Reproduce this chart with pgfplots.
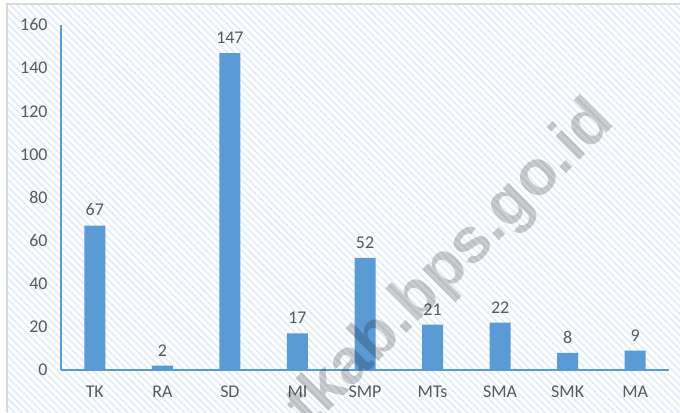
\documentclass[border=0pt]{standalone}
\usepackage{pgfplots}
\pgfplotsset{compat=1.18}
\usepackage{fontspec}
\setmainfont{Carlito}
\newfontfamily\wmfont{Liberation Sans}
\usetikzlibrary{patterns.meta}
\definecolor{barblue}{HTML}{5B9BD5}
\definecolor{txtgray}{HTML}{595959}
\definecolor{hatch}{RGB}{226,236,248}
\definecolor{border}{RGB}{217,217,217}
\begin{document}
\begin{tikzpicture}[x=1bp,y=1bp]
\useasboundingbox (0,0) rectangle (680,412);
\fill[white] (0,0) rectangle (680,412);
\fill[pattern={Lines[angle=-45,distance=5bp,line width=1.6bp]}, pattern color=hatch] (7,0) rectangle (680,408);
\draw[border, line width=1.5bp] (7,0) -- (7,408) -- (680,408);
\begin{axis}[
  at={(61bp,42bp)}, anchor=south west,
  scale only axis, width=608bp, height=345bp,
  xmin=-0.5, xmax=8.5, ymin=0, ymax=160,
  axis x line=bottom, axis y line=left,
  axis line style={-, draw=barblue, line width=1.2bp},
  xtick={0,...,8}, xticklabels={TK,RA,SD,MI,SMP,MTs,SMA,SMK,MA},
  ytick={0,20,...,160}, major tick length=0,
  /pgf/number format/assume math mode=true,
  tick label style={font=\fontsize{18}{20}\selectfont, text=txtgray},
  yticklabel style={xshift=-10bp},
  xticklabel style={yshift=-12bp},
  ybar, bar width=21bp,
  nodes near coords,
  every node near coord/.append style={font=\fontsize{18}{20}\selectfont, text=txtgray, yshift=6bp},
]
\addplot[fill=barblue, draw=none] coordinates {(0,67) (1,2) (2,147) (3,17) (4,52) (5,21) (6,22) (7,8) (8,9)};
\end{axis}
\begin{scope}
\clip (0,0) rectangle (680,412);
\node[rotate=45, font=\wmfont\bfseries\fontsize{64}{68}\selectfont, text=black, opacity=0.2] at (452,147) {tkab.bps.go.id};
\end{scope}
\end{tikzpicture}
\end{document}
